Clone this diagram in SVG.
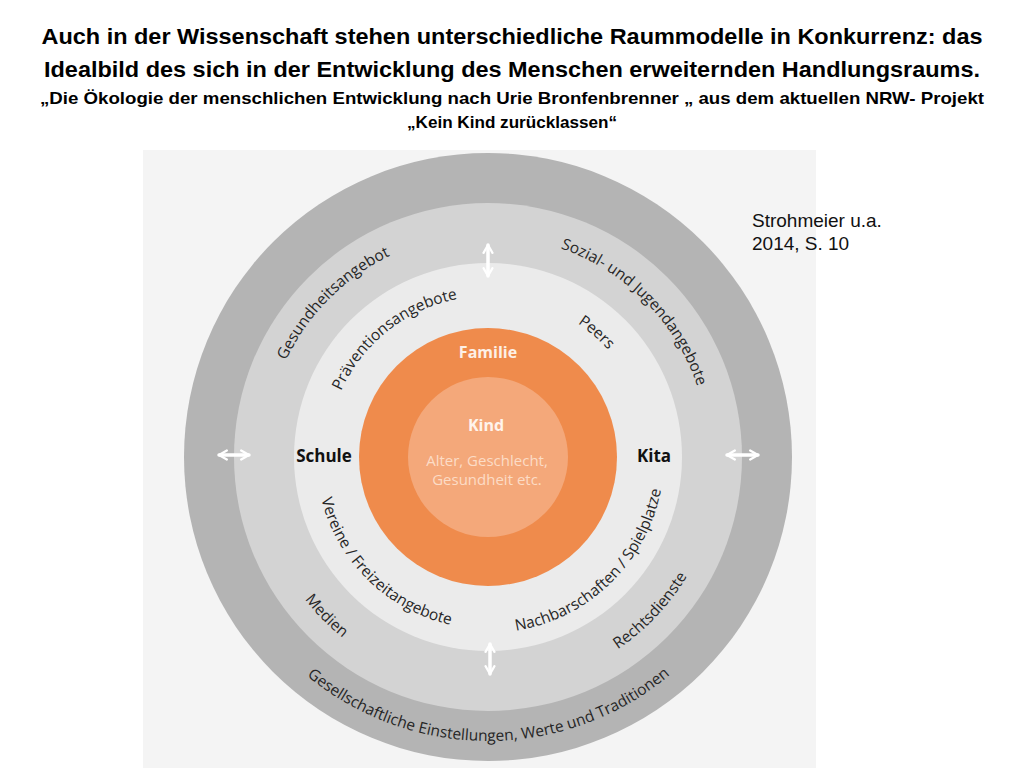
<svg xmlns="http://www.w3.org/2000/svg" width="1024" height="768" viewBox="0 0 1024 768">
<style>
.title{font-family:"Liberation Sans",Arial,sans-serif;font-weight:bold;fill:#000;text-anchor:middle}
.ring{font-family:"Open Sans","Noto Sans",sans-serif;font-size:15.5px;fill:#262626}
.lbl{font-family:"Open Sans","Noto Sans",sans-serif;font-weight:bold;font-size:17px;fill:#111;text-anchor:middle}
.inner{font-family:"Open Sans","Noto Sans",sans-serif;text-anchor:middle}
.src{font-family:"Liberation Sans",Arial,sans-serif;font-size:19px;fill:#111}
.arr{stroke:#fff;stroke-width:3.5;fill:none;stroke-linecap:round;marker-start:url(#ah);marker-end:url(#ah)}
</style>
<defs>
<marker id="ah" viewBox="0 0 10 10" refX="8" refY="5" markerWidth="3.2" markerHeight="3.2" orient="auto-start-reverse" markerUnits="strokeWidth">
<path d="M1,1 L8,5 L1,9" fill="none" stroke="#fff" stroke-width="2" stroke-linecap="round" stroke-linejoin="round"/>
</marker>
<path id="t224" d="M264,457 A224,224 0 0 1 712,457 A224,224 0 0 1 264,457"/>
<path id="t221" d="M267,457 A221,221 0 0 1 709,457 A221,221 0 0 1 267,457"/>
<path id="t161" d="M327,457 A161,161 0 0 1 649,457 A161,161 0 0 1 327,457"/>
<path id="b172" d="M316,457 A172,172 0 0 0 660,457 A172,172 0 0 0 316,457"/>
<path id="b176" d="M312,457 A176,176 0 0 0 664,457 A176,176 0 0 0 312,457"/>
<path id="b232" d="M256,457 A232,232 0 0 0 720,457 A232,232 0 0 0 256,457"/>
<path id="b284" d="M204,457 A284,284 0 0 0 772,457 A284,284 0 0 0 204,457"/>
</defs>
<rect width="1024" height="768" fill="#fff"/>
<g id="title">
<text class="title" x="512" y="44" font-size="22" textLength="941" lengthAdjust="spacingAndGlyphs">Auch in der Wissenschaft stehen unterschiedliche Raummodelle in Konkurrenz: das</text>
<text class="title" x="512" y="77" font-size="22" textLength="936" lengthAdjust="spacingAndGlyphs">Idealbild des sich in der Entwicklung des Menschen erweiternden Handlungsraums.</text>
<text class="title" x="512" y="104" font-size="17" textLength="944" lengthAdjust="spacingAndGlyphs">„Die Ökologie der menschlichen Entwicklung nach Urie Bronfenbrenner „ aus dem aktuellen NRW- Projekt</text>
<text class="title" x="512" y="128" font-size="17" textLength="210" lengthAdjust="spacingAndGlyphs">„Kein Kind zurücklassen“</text>
</g>
<rect x="143" y="150" width="673" height="618" fill="#f4f4f4"/>
<g id="rings">
<circle id="gesellschaft" cx="488" cy="457" r="304" fill="#b4b4b4"/>
<circle id="angebote" cx="488" cy="457" r="254" fill="#d3d3d3"/>
<circle id="umfeld" cx="488" cy="457" r="194" fill="#ebebeb"/>
<circle id="familie" cx="488" cy="457" r="129" fill="#ef8b4c"/>
<circle id="kind" cx="488" cy="457" r="80" fill="#f4a87a"/>
</g>
<g id="connectors">
<line class="arr" x1="219" y1="455" x2="249" y2="455"/>
<line class="arr" x1="727" y1="455" x2="758" y2="455"/>
<line class="arr" x1="488" y1="245" x2="488" y2="276"/>
<line class="arr" x1="490" y1="644" x2="490" y2="674"/>
</g>
<g id="labels-outer">
<text class="ring"><textPath href="#b284" startOffset="446.6" text-anchor="middle">Gesellschaftliche Einstellungen, Werte und Traditionen</textPath></text>
</g>
<g id="labels-mid">
<text class="ring"><textPath href="#t224" startOffset="175.1" text-anchor="middle">Gesundheitsangebot</textPath></text>
<text class="ring"><textPath href="#t221" startOffset="521.5" text-anchor="middle">Sozial- und Jugendangebote</textPath></text>
<text class="ring"><textPath href="#b232" startOffset="180.2" text-anchor="middle">Medien</textPath></text>
<text class="ring"><textPath href="#b232" startOffset="552.7" text-anchor="middle">Rechtsdienste</textPath></text>
</g>
<g id="labels-inner">
<text class="ring"><textPath href="#t161" startOffset="145" text-anchor="middle">Präventionsangebote</textPath></text>
<text class="ring"><textPath href="#t161" startOffset="368.1" text-anchor="middle">Peers</textPath></text>
<text class="ring"><textPath href="#b172" startOffset="137.3" text-anchor="middle">Vereine / Freizeitangebote</textPath></text>
<text class="ring"><textPath href="#b176" startOffset="412.1" text-anchor="middle">Nachbarschaften / Spielplatze</textPath></text>
<text class="lbl" x="324" y="462">Schule</text>
<text class="lbl" x="654" y="462">Kita</text>
</g>
<g id="center">
<text class="inner" x="488" y="358" font-size="16" font-weight="bold" fill="#fdf0e6">Familie</text>
<text class="inner" x="486" y="431" font-size="16" font-weight="bold" fill="#fff4ec">Kind</text>
<text class="inner" x="487" y="466" font-size="15" fill="#fcdcc6">Alter, Geschlecht,</text>
<text class="inner" x="487" y="485" font-size="15" fill="#fcdcc6">Gesundheit etc.</text>
</g>
<g id="source">
<text class="src" x="752" y="227">Strohmeier u.a.</text>
<text class="src" x="752" y="250">2014, S. 10</text>
</g>
</svg>
